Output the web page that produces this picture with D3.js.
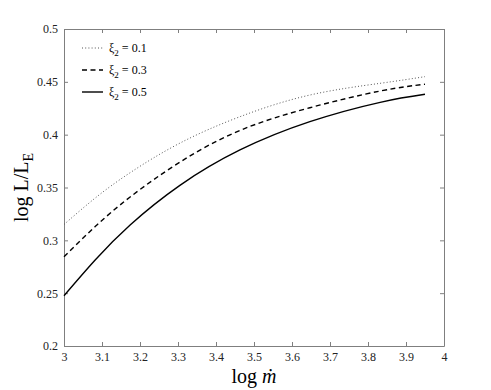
<!DOCTYPE html>
<html lang="en">
<head>
<meta charset="utf-8">
<title>log L/LE vs log mdot</title>
<script src="https://d3js.org/d3.v7.min.js"></script>
<style>
  body { margin: 0; background: #fff; }
  svg { font-family: "Liberation Serif", "Times New Roman", "DejaVu Serif", serif; }
  .axis path, .axis line { stroke: #7f7f7f; }
</style>
</head>
<body>
<svg id="chart"></svg>
<script>
// data
const logMdot = [3.0, 3.082, 3.174, 3.305, 3.463, 3.647, 3.832, 3.95];
const xi01 = [0.315, 0.34, 0.364, 0.392, 0.417, 0.4375, 0.4486, 0.4549];
const xi03 = [0.2845, 0.313, 0.341, 0.374, 0.404, 0.4255, 0.4413, 0.4477];
const xi05 = [0.2476, 0.2814, 0.3145, 0.352, 0.3855, 0.4123, 0.4306, 0.4382];
const seriesLabels = ["0.1", "0.3", "0.5"];
const xTicks = [3, 3.1, 3.2, 3.3, 3.4, 3.5, 3.6, 3.7, 3.8, 3.9, 4];
const yTicks = [0.2, 0.25, 0.3, 0.35, 0.4, 0.45, 0.5];

const width = 491, height = 390;
const margin = { top: 29, right: 47, bottom: 44, left: 64 };

const svg = d3.select("#chart")
    .attr("width", width)
    .attr("height", height);

//scales
const x = d3.scaleLinear().domain([3, 4]).range([margin.left, width - margin.right]);
const y = d3.scaleLinear().domain([0.2, 0.5]).range([height - margin.bottom, margin.top]);

//axes, ticks point inwards like matlab
const fmt = d => String(+d.toFixed(2));
const axes = [
    { ax: d3.axisBottom(x).tickValues(xTicks).tickFormat(fmt), tr: `translate(0,${y(0.2)})` },
    { ax: d3.axisTop(x).tickValues(xTicks).tickFormat(""), tr: `translate(0,${y(0.5)})` },
    { ax: d3.axisLeft(y).tickValues(yTicks).tickFormat(fmt), tr: `translate(${x(3)},0)` },
    { ax: d3.axisRight(y).tickValues(yTicks).tickFormat(""), tr: `translate(${x(4)},0)` }
];
axes.forEach(a => {
    const g = svg.append("g").attr("class", "axis")
        .attr("transform", a.tr)
        .call(a.ax.tickSizeInner(-4).tickSizeOuter(0).tickPadding(6));
    g.selectAll("text")
        .style("font-family", "'Liberation Serif', 'Times New Roman', serif")
        .style("font-size", "12px")
        .style("fill", "#222");
});

//curves
const styles = [
    { data: xi01, stroke: "#555", dash: "1,2.2", w: 1 },
    { data: xi03, stroke: "#000", dash: "5,3.5", w: 1.4 },
    { data: xi05, stroke: "#000", dash: null, w: 1.4 }
];
const line = d3.line()
    .x(d => x(d[0]))
    .y(d => y(d[1]))
    .curve(d3.curveNatural);

styles.forEach(s => {
    svg.append("path")
        .datum(logMdot.map((m, i) => [m, s.data[i]]))
        .attr("fill", "none")
        .attr("stroke", s.stroke)
        .attr("stroke-width", s.w)
        .attr("stroke-dasharray", s.dash)
        .attr("d", line);
});

//legend
const lg = svg.append("g").attr("transform", "translate(82,48)");
styles.forEach((s, i) => {
    const row = lg.append("g").attr("transform", `translate(0,${i * 22})`);
    row.append("line")
        .attr("x1", 0).attr("x2", 21)
        .attr("stroke", s.stroke)
        .attr("stroke-width", s.w)
        .attr("stroke-dasharray", s.dash);
    const t = row.append("text").attr("x", 27).attr("y", 4).attr("font-size", 12);
    t.append("tspan").text("ξ");
    t.append("tspan").attr("dy", 4).attr("font-size", 9).text("2");
    t.append("tspan").attr("dy", -4).text(" = " + seriesLabels[i]);
});

//axis titles
const xl = svg.append("text")
    .attr("x", (x(3) + x(4)) / 2)
    .attr("y", 383)
    .attr("text-anchor", "middle")
    .attr("font-size", 20);
xl.append("tspan").text("log ");
xl.append("tspan").attr("font-style", "italic").text("ṁ");

const yl = svg.append("text")
    .attr("transform", `translate(28,${(y(0.2) + y(0.5)) / 2}) rotate(-90)`)
    .attr("text-anchor", "middle")
    .attr("font-size", 20);
yl.append("tspan").text("log L/L");
yl.append("tspan").attr("dy", 5).attr("font-size", 14).text("E");
</script>
</body>
</html>
